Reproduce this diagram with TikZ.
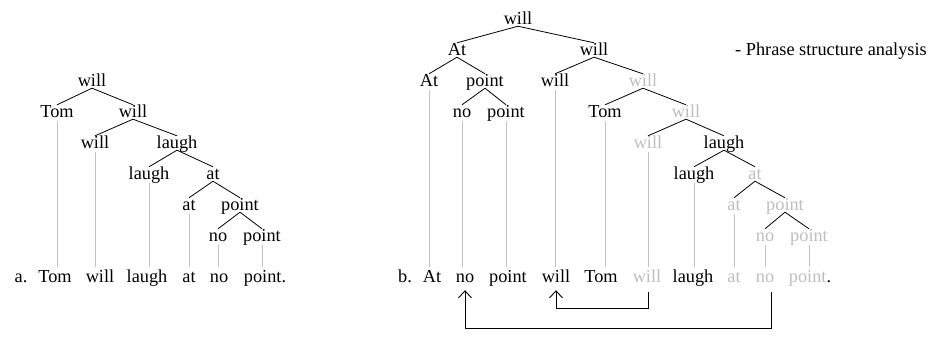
\documentclass[tikz,border=0pt]{standalone}
\usepackage{fontspec}
\setmainfont{Liberation Serif}
\usetikzlibrary{arrows.meta}
\definecolor{lg}{RGB}{190,190,190}
\definecolor{lgline}{RGB}{195,195,195}
\begin{document}
\begin{tikzpicture}[x=1pt,y=-1pt,
  w/.style={inner sep=0pt, anchor=base, text height=12pt, text depth=2pt, font=\fontsize{18.3}{20}\selectfont},
  g/.style={w, text=lg},
  tedge/.style={draw=black, line width=0.8pt},
  vstem/.style={draw=lgline, line width=0.8pt, shorten >=3pt, shorten <=2pt},
  arr/.style={draw=black, line width=0.9pt, -{Straight Barb[length=7pt,width=13pt]}}]
\useasboundingbox (0,0) rectangle (942,346);

% ---------- left tree ----------
\node[w] (lw0) at (92,86) {will};
\node[w] (lTom) at (57,117) {Tom};
\node[w] (lw1) at (133,117) {will};
\node[w] (lw2) at (95,148) {will};
\node[w] (llaugh1) at (177,148) {laugh};
\node[w] (llaugh2) at (149,179) {laugh};
\node[w] (lat1) at (213,179) {at};
\node[w] (lat2) at (189,210) {at};
\node[w] (lpoint1) at (240,210) {point};
\node[w] (lno) at (218,241) {no};
\node[w] (lpoint2) at (262,241) {point};

\node[w] (la) at (21,282) {a.};
\node[w] (lbTom) at (55,282) {Tom};
\node[w] (lbwill) at (100,282) {will};
\node[w] (lblaugh) at (147,282) {laugh};
\node[w] (lbat) at (189,282) {at};
\node[w] (lbno) at (219,282) {no};
\node[w] (lbpoint) at (265,282) {point.};

\foreach \p/\c in {lw0/lTom, lw0/lw1, lw1/lw2, lw1/llaugh1, llaugh1/llaugh2, llaugh1/lat1, lat1/lat2, lat1/lpoint1, lpoint1/lno, lpoint1/lpoint2}
  \draw[tedge] (\p.south) -- (\c.north);
\foreach \l/\b in {lTom/lbTom, lw2/lbwill, llaugh2/lblaugh, lat2/lbat, lno/lbno, lpoint2/lbpoint}
  \draw[vstem] (\l.south) -- (\l.south |- \b.north);

% ---------- right tree ----------
\node[w] (r0) at (518,24) {will};
\node[w] (rAt1) at (457,55) {At};
\node[w] (rw1) at (594,55) {will};
\node[w] (rAt2) at (429,86) {At};
\node[w] (rpoint2) at (485,86) {point};
\node[w] (rw2) at (555,86) {will};
\node[g] (rwg2) at (643,86) {will};
\node[w] (rno3) at (462,117) {no};
\node[w] (rpoint3) at (506,117) {point};
\node[w] (rTom3) at (605,117) {Tom};
\node[g] (rwg3) at (686,117) {will};
\node[g] (rwg4) at (648,148) {will};
\node[w] (rlaugh4) at (724,148) {laugh};
\node[w] (rlaugh5) at (694,179) {laugh};
\node[g] (ratg5) at (755,179) {at};
\node[g] (ratg6) at (734,210) {at};
\node[g] (rpointg6) at (785,210) {point};
\node[g] (rnog7) at (765,241) {no};
\node[g] (rpointg7) at (809,241) {point};

\node[w] (rb) at (405,282) {b.};
\node[w] (rbAt) at (432,282) {At};
\node[w] (rbno) at (465,282) {no};
\node[w] (rbpoint) at (508,282) {point};
\node[w] (rbwill) at (556,282) {will};
\node[w] (rbTom) at (601,282) {Tom};
\node[g] (rbwillg) at (647,282) {will};
\node[w] (rblaugh) at (693,282) {laugh};
\node[g] (rbatg) at (734,282) {at};
\node[g] (rbnog) at (765,282) {no};
\node[w] (rbpointg) at (810,282) {\textcolor{lg}{point}.};

\node[w, anchor=base west] (title) at (735,55) {- Phrase structure analysis};

\foreach \p/\c in {r0/rAt1, r0/rw1, rAt1/rAt2, rAt1/rpoint2, rpoint2/rno3, rpoint2/rpoint3, rw1/rw2, rw1/rwg2, rwg2/rTom3, rwg2/rwg3, rwg3/rwg4, rwg3/rlaugh4, rlaugh4/rlaugh5, rlaugh4/ratg5, ratg5/ratg6, ratg5/rpointg6, rpointg6/rnog7, rpointg6/rpointg7}
  \draw[tedge] (\p.south) -- (\c.north);
\foreach \l/\b in {rAt2/rbAt, rno3/rbno, rpoint3/rbpoint, rw2/rbwill, rTom3/rbTom, rwg4/rbwillg, rlaugh5/rblaugh, ratg6/rbatg, rnog7/rbnog, rpointg7/rbpointg}
  \draw[vstem] (\l.south) -- (\l.south |- \b.north);

% ---------- movement arrows ----------
\draw[arr] ([xshift=1pt,yshift=-8pt]rbwillg.south) -- ++(0,16) -| ([yshift=-6pt]rbwill.south);
\draw[arr] ([xshift=6pt,yshift=-8pt]rbnog.south) -- ++(0,36) -| ([yshift=-6pt]rbno.south);
\end{tikzpicture}
\end{document}
